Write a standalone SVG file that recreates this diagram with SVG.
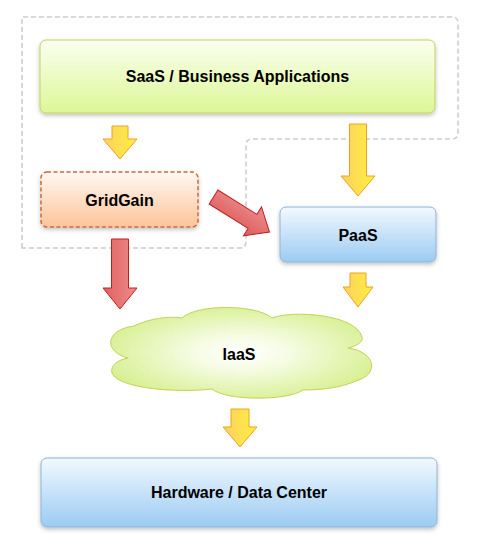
<svg xmlns="http://www.w3.org/2000/svg" width="479" height="549" viewBox="0 0 479 549">
<defs>
<linearGradient id="gGreen" x1="0" y1="0" x2="0" y2="1"><stop offset="0" stop-color="#fbfff0"/><stop offset="1" stop-color="#dcf796"/></linearGradient>
<linearGradient id="gOrange" x1="0" y1="0" x2="0" y2="1"><stop offset="0" stop-color="#fff8f2"/><stop offset="1" stop-color="#fdc49a"/></linearGradient>
<linearGradient id="gBlue" x1="0" y1="0" x2="0" y2="1"><stop offset="0" stop-color="#f2f9ff"/><stop offset="1" stop-color="#9bcbf2"/></linearGradient>
<radialGradient id="gCloud" cx="0.5" cy="0.5" r="0.6"><stop offset="0" stop-color="#ffffff"/><stop offset="0.3" stop-color="#f6fce4"/><stop offset="1" stop-color="#d3ee86"/></radialGradient>
<linearGradient id="gYellow" x1="0" y1="0" x2="1" y2="0"><stop offset="0" stop-color="#fdd060"/><stop offset="1" stop-color="#fdf040"/></linearGradient>
<linearGradient id="gRed" x1="0" y1="0" x2="1" y2="0"><stop offset="0" stop-color="#e06060"/><stop offset="1" stop-color="#ee8c8c"/></linearGradient>
<linearGradient id="gRedD" x1="0" y1="0" x2="0" y2="1"><stop offset="0" stop-color="#ee8c8c"/><stop offset="1" stop-color="#dc5c5c"/></linearGradient>
<filter id="sh" x="-10%" y="-20%" width="120%" height="150%"><feDropShadow dx="0" dy="2" stdDeviation="2" flood-color="#000" flood-opacity="0.25"/></filter>
</defs>
<style>
.lbl{font-family:"Liberation Sans",Arial,sans-serif;font-weight:bold;font-size:16px;fill:#000;text-anchor:middle;dominant-baseline:central}
.ya{fill:url(#gYellow);stroke:#f0a020;stroke-width:1}
.ra{stroke:#c02020;stroke-width:1}
</style>
<rect width="479" height="549" fill="#fff"/>
<g id="region">
<path d="M22,248 L22,17 L452,17 Q458,17 458,23 L458,133 Q458,139 452,139 L252,139 Q246,139 246,145 L246,242 Q246,248 240,248 Z" fill="none" stroke="#cccccc" stroke-width="1.5" stroke-dasharray="5,3"/>
</g>
<g id="saas">
<rect x="40" y="40" width="395" height="73" rx="6" fill="url(#gGreen)" stroke="#c5d35a" stroke-width="1" filter="url(#sh)"/>
<text class="lbl" x="237.5" y="76">SaaS / Business Applications</text>
</g>
<g id="gridgain">
<rect x="41" y="172" width="157" height="55" rx="6" fill="url(#gOrange)" stroke="#d0683a" stroke-width="1.5" stroke-dasharray="4,2.5" filter="url(#sh)"/>
<text class="lbl" x="119.5" y="200">GridGain</text>
</g>
<g id="paas">
<rect x="280" y="207" width="156" height="55" rx="6" fill="url(#gBlue)" stroke="#8fb4d4" stroke-width="1" filter="url(#sh)"/>
<text class="lbl" x="358" y="235">PaaS</text>
</g>
<g id="iaas">
<path d="M128,358 C104,352 104,330 134,326 C150,318 170,316 182,318 C196,304 256,304 272,318 C292,310 356,314 362,337 C364,342 356,346 348,348 C376,352 380,374 356,381 C340,388 320,390 303,390 C288,401 226,401 212,389 C180,393 118,389 112,373 C110,365 118,360 128,358 Z" fill="url(#gCloud)" stroke="#c5d255" stroke-width="1"/>
<text class="lbl" x="239" y="354">IaaS</text>
</g>
<g id="hardware">
<rect x="41" y="458" width="396" height="69" rx="6" fill="url(#gBlue)" stroke="#8fb4d4" stroke-width="1" filter="url(#sh)"/>
<text class="lbl" x="239" y="492">Hardware / Data Center</text>
</g>
<g id="connectors">
<polygon class="ya" points="112,126 128,126 128,139 137,139 120,159 103,139 112,139"/>
<polygon class="ya" points="349.5,124 366.5,124 366.5,176 375,176 358,196 341,176 349.5,176"/>
<polygon class="ya" points="350,273 366,273 366,287 373,287 358,307 343,287 350,287"/>
<polygon class="ya" points="231,409 249,409 249,427 257,427 240,447 223,427 231,427"/>
<polygon class="ra" fill="url(#gRed)" points="111.5,239 128.5,239 128.5,288 137,288 120,309 103,288 111.5,288"/>
<polygon class="ra" fill="url(#gRedD)" transform="translate(213.5,197) rotate(32)" points="0,-8.3 46,-8.3 46,-17 66,0 46,17 46,8.3 0,8.3"/>
</g>
</svg>
